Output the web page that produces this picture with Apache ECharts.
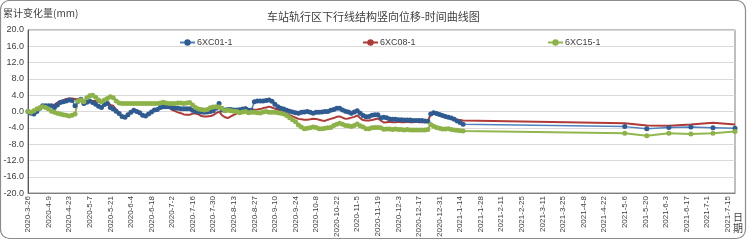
<!DOCTYPE html>
<html>
<head>
<meta charset="utf-8">
<script src="https://cdn.jsdelivr.net/npm/echarts@6/dist/echarts.min.js"></script>
<style>
html,body{margin:0;padding:0;background:#fff;}
#chart{width:747px;height:240px;}
</style>
</head>
<body>
<div id="chart"></div>
<script>
let chart = echarts.init(document.getElementById('chart'));

/*x轴刻度标签*/
let tickLabels = ['2020-3-26','2020-4-9','2020-4-23','2020-5-7','2020-5-21','2020-6-4','2020-6-18','2020-7-2',
  '2020-7-16','2020-7-30','2020-8-13','2020-8-27','2020-9-10','2020-9-24','2020-10-8','2020-10-22','2020-11-5',
  '2020-11-19','2020-12-3','2020-12-17','2020-12-31','2021-1-14','2021-1-28','2021-2-11','2021-2-25','2021-3-11',
  '2021-3-25','2021-4-8','2021-4-22','2021-5-6','201-5-20','2021-6-3','2021-6-17','2021-7-1','2021-7-15'];

/*监测日期*/
let dates = [
  '2020-3-26','2020-3-28','2020-3-30',
  '2020-4-1','2020-4-3','2020-4-5','2020-4-7','2020-4-9','2020-4-11','2020-4-13','2020-4-15','2020-4-17','2020-4-19','2020-4-21','2020-4-23','2020-4-25','2020-4-27','2020-4-29',
  '2020-5-1','2020-5-3','2020-5-5','2020-5-7','2020-5-9','2020-5-11','2020-5-13','2020-5-15','2020-5-17','2020-5-19','2020-5-21','2020-5-23','2020-5-25','2020-5-27','2020-5-29','2020-5-31',
  '2020-6-2','2020-6-4','2020-6-6','2020-6-8','2020-6-10','2020-6-12','2020-6-14','2020-6-16','2020-6-18','2020-6-20','2020-6-22','2020-6-24','2020-6-26','2020-6-28','2020-6-30',
  '2020-7-2','2020-7-4','2020-7-6','2020-7-8','2020-7-10','2020-7-12','2020-7-14','2020-7-16','2020-7-18','2020-7-20','2020-7-22','2020-7-24','2020-7-26','2020-7-28','2020-7-30',
  '2020-8-1','2020-8-3','2020-8-5','2020-8-7','2020-8-9','2020-8-11','2020-8-13','2020-8-15','2020-8-17','2020-8-19','2020-8-21','2020-8-23','2020-8-25','2020-8-27','2020-8-29','2020-8-31',
  '2020-9-2','2020-9-4','2020-9-6','2020-9-8','2020-9-10','2020-9-12','2020-9-14','2020-9-16','2020-9-18','2020-9-20','2020-9-22','2020-9-24','2020-9-26','2020-9-28','2020-9-30',
  '2020-10-2','2020-10-4','2020-10-6','2020-10-8','2020-10-10','2020-10-12','2020-10-14','2020-10-16','2020-10-18','2020-10-20','2020-10-22','2020-10-24','2020-10-26','2020-10-28','2020-10-30',
  '2020-11-1','2020-11-3','2020-11-5','2020-11-7','2020-11-9','2020-11-11','2020-11-13','2020-11-15','2020-11-17','2020-11-19','2020-11-21','2020-11-23','2020-11-25','2020-11-27','2020-11-29',
  '2020-12-1','2020-12-3','2020-12-5','2020-12-7','2020-12-9','2020-12-11','2020-12-13','2020-12-15','2020-12-17','2020-12-19','2020-12-21','2020-12-23','2020-12-25','2020-12-27','2020-12-29','2020-12-31',
  '2021-1-2','2021-1-4','2021-1-6','2021-1-8','2021-1-10','2021-1-12','2021-1-14','2021-1-16',
  '2021-5-6','2021-5-21','2021-6-5','2021-6-20','2021-7-5','2021-7-20'];

/*6XC01-1*/
let xc01 = [
  0.0,-0.4,-0.6,0.0,0.8,1.4,1.4,1.4,1.4,1.0,
  1.6,2.2,2.4,2.6,2.8,2.7,1.4,2.5,3.0,2.0,
  2.3,2.6,2.2,1.8,1.3,1.0,1.7,2.0,1.0,0.6,
  0.1,-0.5,-1.2,-1.4,-0.8,-0.2,0.3,0.0,-0.3,-0.9,
  -1.1,-0.6,-0.1,0.4,0.5,1.0,1.2,1.2,1.2,1.0,
  0.8,0.8,0.7,0.7,0.7,0.7,0.3,0.0,0.0,-0.1,
  -0.2,-0.1,0.0,0.2,0.8,2.0,0.4,0.4,0.5,0.5,
  0.4,0.4,0.45,0.6,0.7,0.3,0.3,2.4,2.6,2.6,
  2.6,2.7,2.8,2.5,1.8,1.2,0.8,0.6,0.3,0.1,
  -0.1,-0.3,-0.4,-0.2,-0.1,0.0,-0.2,-0.4,-0.2,-0.2,
  -0.1,0.0,0.0,0.3,0.5,0.8,0.8,0.4,0.1,-0.1,
  -0.4,-0.1,0.2,-0.4,-1.0,-1.3,-1.2,-0.9,-0.8,-0.8,
  -1.5,-1.4,-1.5,-1.8,-1.9,-1.9,-2.0,-2.0,-2.1,-2.1,
  -2.1,-2.2,-2.2,-2.2,-2.2,-2.3,-2.4,-0.6,-0.3,-0.5,
  -0.7,-1.0,-1.2,-1.4,-1.6,-1.9,-2.3,-2.7,-3.1,
  -3.7,-4.2,-3.9,-3.8,-3.95,-4.1];

/*6XC08-1*/
let xc08 = [
  0.0,-0.1,-0.1,0.4,0.8,1.2,1.2,1.2,1.4,1.7,
  2.2,2.6,2.8,3.1,3.2,3.2,3.1,3.0,3.2,1.6,
  2.3,2.6,2.6,2.6,2.4,2.3,2.8,2.4,1.6,1.4,
  0.5,-0.5,-1.3,-1.3,-0.9,-0.1,0.25,0.0,-0.4,-1.1,
  -1.1,-0.7,-0.1,0.3,0.5,1.1,1.3,1.3,1.0,0.4,
  0.1,-0.2,-0.4,-0.7,-0.8,-0.8,-0.5,-0.5,-0.7,-1.1,
  -1.2,-1.2,-1.1,-0.9,-0.4,0.0,-0.9,-1.4,-1.6,-1.2,
  -0.8,-0.5,0.2,0.7,1.0,0.6,0.45,0.45,0.5,0.6,
  0.85,1.0,1.2,1.0,0.7,0.45,0.1,-0.1,-0.5,-0.9,
  -1.2,-1.5,-1.8,-1.9,-2.0,-2.0,-1.9,-1.75,-1.8,-2.0,
  -2.2,-2.3,-2.0,-1.8,-1.6,-1.3,-1.2,-1.5,-1.8,-1.7,
  -1.5,-1.3,-0.95,-1.6,-2.1,-2.2,-2.2,-2.1,-1.9,-1.7,
  -2.2,-2.7,-2.6,-2.5,-2.6,-2.6,-2.5,-2.6,-2.6,-2.5,
  -2.6,-2.6,-2.5,-2.6,-2.6,-2.6,-2.5,-0.6,-0.4,-0.6,
  -0.8,-1.0,-1.2,-1.4,-1.6,-1.8,-2.0,-2.1,-2.2,
  -2.9,-3.4,-3.5,-3.2,-2.75,-3.15];

/*6XC15-1*/
let xc15 = [
  0.0,-0.2,0.2,0.6,0.9,1.2,1.0,0.6,0.1,-0.2,
  -0.4,-0.6,-0.8,-0.9,-1.1,-0.9,-0.6,2.6,2.8,2.4,
  3.4,3.9,4.0,3.5,2.8,2.4,2.8,3.2,3.6,3.4,
  2.6,2.1,2.0,2.0,2.0,2.0,2.0,2.0,2.0,2.0,
  2.0,2.0,2.0,2.0,2.0,2.1,2.3,2.1,2.0,2.0,
  2.0,2.1,2.1,2.0,2.1,2.2,1.6,1.0,0.6,0.5,
  0.4,0.5,0.9,1.1,1.2,1.1,0.8,0.2,0.3,0.2,
  0.1,0.0,-0.3,-0.1,0.0,-0.3,-0.2,-0.2,-0.3,-0.35,
  -0.1,0.0,-0.2,-0.2,-0.2,-0.3,-0.4,-0.6,-1.0,-1.5,
  -2.0,-2.5,-3.3,-3.8,-4.2,-4.1,-4.0,-3.8,-3.9,-4.2,
  -4.2,-4.1,-4.0,-3.9,-3.45,-3.1,-2.9,-3.1,-3.4,-3.5,
  -3.7,-3.4,-3.05,-3.5,-3.8,-4.2,-4.2,-4.0,-3.9,-3.9,
  -4.0,-4.35,-4.3,-4.3,-4.4,-4.3,-4.4,-4.4,-4.5,-4.4,
  -4.5,-4.5,-4.5,-4.5,-4.5,-4.5,-4.4,-3.2,-3.6,-3.9,
  -4.1,-4.3,-4.3,-4.2,-4.4,-4.5,-4.6,-4.7,-4.75,
  -5.3,-5.95,-5.3,-5.5,-5.3,-4.9];

/*距首日天数*/
function dayOf(s){
  let p = s.split('-').map(Number);
  return Math.round((Date.UTC(p[0], p[1] - 1, p[2]) - Date.UTC(2020, 2, 26)) / 86400000);
}
let days = dates.map(dayOf);
let tickDays = tickLabels.map(function(v, i){ return i * 14; });

function pairs(arr){
  return arr.map(function(v, i){ return [days[i], v]; });
}

let numFont = '"Liberation Sans Narrow", "Liberation Sans", sans-serif';
let cjkFont = '"Noto Sans CJK SC", sans-serif';

let option = {
  animation: false,
  backgroundColor: '#fff',
  title: {
    text: '车站轨行区下行线结构竖向位移-时间曲线图',
    left: 262,
    top: 6,
    textStyle: {color: '#404040', fontSize: 11, fontWeight: 'normal', fontFamily: cjkFont}
  },
  legend: [
    {left: 174, top: 33, data: ['6XC01-1']},
    {left: 357, top: 33, data: ['6XC08-1']},
    {left: 542, top: 33, data: ['6XC15-1']}
  ].map(function(l){
    return Object.assign(l, {
      itemWidth: 15, itemHeight: 8,
      textStyle: {color: '#404040', fontSize: 9, fontFamily: numFont, padding: [0, 0, 0, -3]}
    });
  }),
  grid: {
    left: 28, right: 12, top: 30, bottom: 43,
    show: true, borderColor: '#7f7f7f', borderWidth: 1
  },
  xAxis: {
    type: 'value',
    min: 0,
    max: 481,
    splitLine: {show: false},
    axisLine: {onZero: false, lineStyle: {color: '#7f7f7f'}},
    axisTick: {show: false},
    axisLabel: {
      customValues: tickDays,
      rotate: 90,
      margin: 3,
      color: '#404040',
      fontSize: 8,
      fontFamily: numFont,
      formatter: function(v){ return tickLabels[Math.round(v / 14)]; }
    }
  },
  yAxis: {
    type: 'value',
    name: '累计变化量(mm)',
    nameLocation: 'end',
    nameGap: 0,
    nameTextStyle: {color: '#404040', fontSize: 10, fontFamily: cjkFont, align: 'left', padding: [0, 0, 12, -25]},
    min: -20,
    max: 20,
    interval: 4,
    axisLine: {show: true, lineStyle: {color: '#595959'}},
    axisTick: {show: false},
    splitLine: {lineStyle: {color: '#d9d9d9'}},
    axisLabel: {
      color: '#404040', fontSize: 9, fontFamily: numFont, margin: 4,
      formatter: function(v){ return v.toFixed(1); }
    }
  },
  graphic: [
    {
      type: 'rect',
      shape: {x: 0.5, y: 0.5, width: 745, height: 238, r: 9},
      style: {fill: 'none', stroke: '#8c8c8c', lineWidth: 1.2},
      silent: true
    },
    {
      type: 'text',
      left: 733,
      top: 212,
      style: {text: '日\n期', fill: '#404040', fontSize: 10, fontFamily: cjkFont, lineHeight: 11}
    }
  ],
  series: [
    {
      name: '6XC01-1',
      type: 'line',
      data: pairs(xc01),
      symbol: 'circle',
      symbolSize: 5,
      lineStyle: {color: '#4f81bd', width: 1.5},
      itemStyle: {color: '#2f5b91'}
    },
    {
      name: '6XC08-1',
      type: 'line',
      data: pairs(xc08),
      symbol: 'none',
      lineStyle: {color: '#b03a37', width: 2},
      itemStyle: {color: '#b03a37'}
    },
    {
      name: '6XC15-1',
      type: 'line',
      data: pairs(xc15),
      symbol: 'circle',
      symbolSize: 5,
      lineStyle: {color: '#93b74f', width: 2},
      itemStyle: {color: '#8db348'}
    }
  ]
};

chart.setOption(option);
</script>
</body>
</html>
